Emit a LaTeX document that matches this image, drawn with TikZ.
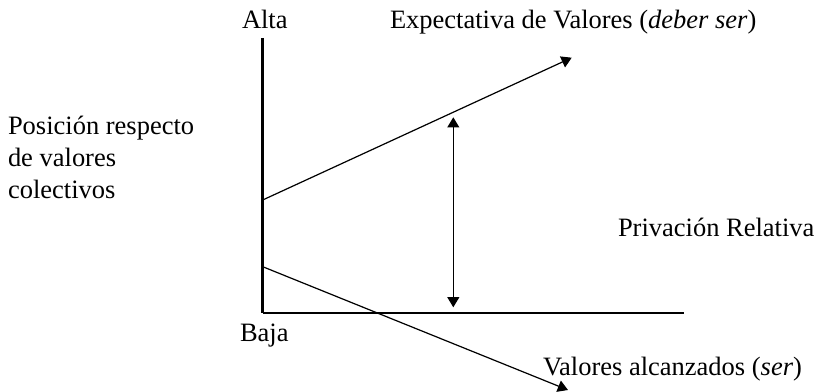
\documentclass[tikz,border=0pt]{standalone}
\usepackage{fontspec}
\setmainfont{Liberation Serif}
\usetikzlibrary{arrows.meta}
\begin{document}
\begin{tikzpicture}[x=0.453pt,y=-0.453pt]
		\tikzstyle{invisible} = [outer sep=0,inner sep=0,minimum size=0]
		\tikzstyle{txt} = [invisible, anchor=base west, font=\fontsize{12}{15}\selectfont]
		\tikzstyle{axis} = [draw, line width=1.15pt, line join=miter]
		\tikzstyle{trend} = [draw, line width=0.55pt, -{Triangle[length=4.6pt,width=5.4pt]}]
		\tikzstyle{both} = [draw, line width=0.55pt, {Triangle[length=4.6pt,width=5.4pt]}-{Triangle[length=4.6pt,width=5.4pt]}]
		\useasboundingbox (0,0) rectangle (819,392);
		% ejes
		\node [invisible] (v1) at (262.7,313) {};
		\node [invisible] (v2) at (262.7,38) {};
		\node [invisible] (v3) at (684,313) {};
		\draw [axis] (v2) -- (v1) -- (v3);
		% rectas
		\node [invisible] (v4) at (262.7,200) {};
		\node [invisible] (v5) at (571.7,57.7) {};
		\node [invisible] (v6) at (262.7,266.7) {};
		\node [invisible] (v7) at (568,390) {};
		\draw [trend] (v4) -- (v5);
		\draw [trend] (v6) -- (v7);
		\node [invisible] (v8) at (453.3,117.3) {};
		\node [invisible] (v9) at (453.3,307.3) {};
		\draw [both] (v8) -- (v9);
		% textos
		\node [txt] (alta) at (242,29) {Alta};
		\node [txt] (baja) at (240,342) {Baja};
		\node [txt] (deber) at (390,29) {Expectativa de Valores (\textit{deber ser})};
		\node [txt] (ser) at (543,375) {Valores alcanzados (\textit{ser})};
		\node [txt] (priv) at (618,237) {Privación Relativa};
		\node [txt] (p1) at (8,135) {Posición respecto};
		\node [txt] (p2) at (8,167) {de valores};
		\node [txt] (p3) at (8,199) {colectivos};
\end{tikzpicture}
\end{document}
